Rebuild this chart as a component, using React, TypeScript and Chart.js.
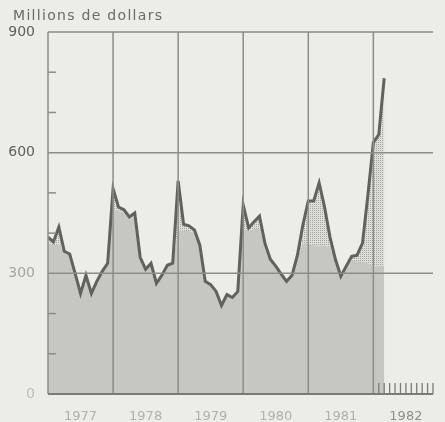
import { useEffect, useRef } from 'react';
import { Chart, registerables } from 'chart.js';
Chart.register(...registerables);

// Monthly data, Jan 1977 .. Mar 1982 (millions de dollars)
const years = ['1977', '1978', '1979', '1980', '1981', '1982'];
const totalValues = [
  390, 378, 415, 355, 348, 300, 250, 295, 250, 280, 305, 325,
  510, 465, 458, 440, 450, 340, 310, 325, 275, 295, 320, 325,
  530, 422, 418, 408, 370, 280, 272, 255, 220, 247, 240, 255,
  470, 413, 428, 442, 375, 335, 318, 298, 280, 295, 345, 420,
  480, 480, 525, 465, 390, 335, 293, 318, 342, 345, 375, 495,
  625, 645, 785,
];
const greyValues = [
  375, 370, 372, 352, 345, 298, 250, 295, 250, 280, 305, 322,
  460, 455, 450, 435, 440, 340, 310, 325, 275, 295, 320, 322,
  410, 405, 405, 400, 368, 280, 272, 255, 220, 247, 240, 255,
  410, 405, 410, 410, 372, 335, 318, 298, 280, 295, 340, 375,
  375, 370, 370, 370, 365, 335, 293, 318, 332, 330, 330, 325,
  318, 318, 318,
];
const yTickLabels = [0, 300, 600, 900];
const yMinorTicks = [100, 200, 400, 500, 700, 800];
const titleText = 'Millions de dollars';

const PAPER = '#ececE8';
const FONT = '"DejaVu Sans", "Liberation Sans", sans-serif';

export default function App() {
  const ref = useRef<HTMLCanvasElement>(null);
  useEffect(() => {
    document.body.style.margin = '0';
    document.body.style.background = PAPER;
    const canvas = ref.current!;
    const pc = document.createElement('canvas');
    pc.width = 2;
    pc.height = 2;
    const pctx = pc.getContext('2d')!;
    pctx.fillStyle = '#dededa';
    pctx.fillRect(0, 0, 2, 2);
    pctx.fillStyle = '#a2a29e';
    pctx.fillRect(0, 0, 1, 1);
    const pattern = canvas.getContext('2d')!.createPattern(pc, 'repeat')!;

    const frame = {
      id: 'frame',
      beforeDraw(chart: any) {
        const c = chart.ctx;
        c.save();
        c.fillStyle = PAPER;
        c.fillRect(0, 0, chart.width, chart.height);
        c.restore();
      },
      afterDatasetsDraw(chart: any) {
        const c = chart.ctx;
        const { left, right, top, bottom } = chart.chartArea;
        const xs = chart.scales.x;
        const ys = chart.scales.y;
        c.save();
        c.strokeStyle = '#8c8c88';
        c.lineWidth = 1.5;
        yTickLabels.forEach((v) => {
          if (v === 0) return;
          const y = ys.getPixelForValue(v);
          c.beginPath();
          c.moveTo(left, y);
          c.lineTo(right, y);
          c.stroke();
        });
        years.forEach((_, i) => {
          if (i === 0) return;
          const x = xs.getPixelForValue(i * 12);
          c.beginPath();
          c.moveTo(x, top);
          c.lineTo(x, bottom);
          c.stroke();
        });
        c.beginPath();
        c.moveTo(left, top);
        c.lineTo(left, bottom);
        c.stroke();
        yMinorTicks.forEach((v) => {
          const y = ys.getPixelForValue(v);
          c.beginPath();
          c.moveTo(left, y);
          c.lineTo(left + 8, y);
          c.stroke();
        });
        c.strokeStyle = '#7a7a76';
        c.lineWidth = 2;
        c.beginPath();
        c.moveTo(left, bottom);
        c.lineTo(right, bottom);
        c.stroke();
        c.lineWidth = 1.3;
        for (let m = (years.length - 1) * 12 + 1; m < years.length * 12; m++) {
          const x = xs.getPixelForValue(m);
          c.beginPath();
          c.moveTo(x, bottom);
          c.lineTo(x, bottom - 11);
          c.stroke();
        }
        c.restore();
      },
    };

    const chart = new Chart(canvas, {
      type: 'line',
      data: {
        datasets: [
          {
            data: totalValues.map((v, i) => ({ x: i, y: v })),
            borderColor: '#61615d',
            borderWidth: 3,
            pointRadius: 0,
            tension: 0,
            fill: 1,
            backgroundColor: pattern,
          },
          {
            data: greyValues.map((v, i) => ({ x: i, y: v })),
            borderWidth: 0,
            borderColor: 'rgba(0,0,0,0)',
            pointRadius: 0,
            tension: 0,
            fill: 'origin',
            backgroundColor: '#c6c6c2',
          },
        ],
      },
      options: {
        animation: false,
        responsive: false,
        maintainAspectRatio: false,
        layout: { padding: { top: 32, right: 12, bottom: 0, left: 0 } },
        plugins: { legend: { display: false }, tooltip: { enabled: false }, title: { display: false } },
        scales: {
          x: {
            type: 'linear',
            min: 0,
            max: years.length * 12 - 1,
            grid: { display: false },
            border: { display: false },
            afterBuildTicks: (s: any) => {
              s.ticks = years.map((_, i) => ({ value: i * 12 + 6 }));
            },
            afterFit: (s: any) => {
              s.height = 28;
            },
            ticks: {
              padding: 7,
              autoSkip: false,
              maxRotation: 0,
              font: { family: FONT, size: 13 },
              color: (ctx: any) => (ctx.tick && ctx.tick.value === (years.length - 1) * 12 + 6 ? '#8e8e8a' : '#b0b0ac'),
              callback: (v: any) => years[Math.floor(Number(v) / 12)],
            },
          },
          y: {
            min: 0,
            max: 900,
            grid: { display: false },
            border: { display: false },
            afterBuildTicks: (s: any) => {
              s.ticks = yTickLabels.map((v) => ({ value: v }));
            },
            afterFit: (s: any) => {
              s.width = 48;
            },
            ticks: {
              padding: 5,
              font: { family: FONT, size: 14 },
              color: (ctx: any) => {
                const v = ctx.tick ? ctx.tick.value : 0;
                if (v >= 600) return '#5e5e5a';
                if (v === 300) return '#a4a4a0';
                return '#bdbdb9';
              },
            },
          },
        },
      },
      plugins: [frame],
    } as any);
    return () => chart.destroy();
  }, []);

  return (
    <div style={{ position: 'relative', width: 445, height: 422, background: PAPER }}>
      <canvas ref={ref} width={445} height={422} style={{ display: 'block' }} />
      <div
        style={{
          position: 'absolute',
          left: 13,
          top: 7,
          font: `14px ${FONT}`,
          letterSpacing: '1.3px',
          color: '#6a6a66',
          whiteSpace: 'nowrap',
        }}
      >
        {titleText}
      </div>
    </div>
  );
}
